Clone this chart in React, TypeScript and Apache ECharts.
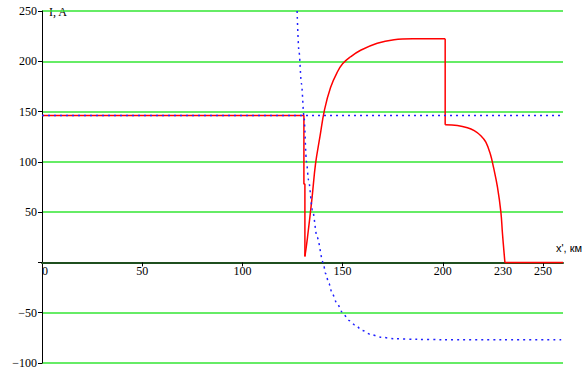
import React, { useEffect, useRef } from "react";
import * as echarts from "echarts";

// red current: sharp step segments and smooth curved segments
const redStepAX = [0, 130.7, 130.7, 131.2, 131.2];
const redStepAY = [146, 146, 78, 78, 6];
const redRiseX = [131.2, 132.5, 134.8, 136.5, 138.7, 141, 144, 147.3, 150, 154, 159, 167.3, 175.7, 185, 201.2];
const redRiseY = [6, 25, 65, 98, 125, 152, 174, 189, 197.5, 204.5, 211, 218, 221.5, 222.4, 222.4];
const redStepBX = [201.2, 201.2];
const redStepBY = [222.4, 137];
const redFallX = [201.2, 207.3, 212.3, 215.7, 219, 221.5, 223.7, 225.3, 227.3, 229, 229.8, 231];
const redFallY = [137, 136.2, 134, 131, 126, 119.6, 108, 94.7, 74.8, 50, 28.5, 0];
const redTailX = [231, 260];
const redTailY = [0, 0];

// blue dotted curve
const blueX = [127.3, 128.2, 129.5, 130.7, 132, 133, 135, 137.3, 140.3, 141.5, 143.2, 144.8, 147.3, 149.8, 153.2, 156.5, 159.8, 164, 169, 175.7, 187.3, 200, 230, 260];
const blueY = [250, 210.7, 177.6, 146, 100, 82, 52, 25, 0, -11, -21, -31, -41, -49.4, -57.7, -62.6, -67.6, -71.6, -74.3, -75.8, -76.5, -76.8, -77, -77];

// blue dotted level
const flatX = [0, 260];
const flatY = [146, 146];

const xTickValues = [50, 100, 150, 200, 250];
const xLabelValues = [0, 50, 100, 150, 200, 230, 250];

const Y_MIN = -100;
const Y_MAX = 250;
const GRID_TOP = 11;
const GRID_BOTTOM = 10;
const HEIGHT = 373;

const zip = (xs: number[], ys: number[]) => xs.map((x, i) => [x, ys[i]]);

export default function App() {
  const ref = useRef<HTMLDivElement>(null);
  useEffect(() => {
    if (!ref.current) return;
    const chart = echarts.init(ref.current, null, { renderer: "svg" });
    const font = "Liberation Serif";
    const red = { color: "#ff0000", width: 1.5 };
    const plotH = HEIGHT - GRID_TOP - GRID_BOTTOM;
    const zeroOffset = -((0 - Y_MIN) / (Y_MAX - Y_MIN)) * plotH;
    const seg = (xs: number[], ys: number[], smooth: boolean) => ({
      type: "line",
      data: zip(xs, ys),
      showSymbol: false,
      smooth: smooth ? 0.4 : false,
      lineStyle: red,
      z: 2,
    });
    chart.setOption({
      animation: false,
      backgroundColor: "#ffffff",
      grid: { left: 42, right: 25, top: GRID_TOP, bottom: GRID_BOTTOM, outerBoundsMode: "none", containLabel: false },
      xAxis: {
        type: "value",
        min: 0,
        max: 260,
        interval: 10,
        position: "bottom",
        offset: zeroOffset,
        axisLine: { onZero: false, lineStyle: { color: "#1f4f1f", width: 2 } },
        axisTick: { show: true, customValues: xTickValues, length: 4, lineStyle: { color: "#000" } },
        axisLabel: {
          customValues: xLabelValues,
          color: "#000",
          fontFamily: font,
          fontSize: 12,
          margin: 3,
          alignMinLabel: "left",
          formatter: (v: number) => String(v),
        },
        splitLine: { show: false },
      },
      yAxis: {
        type: "value",
        min: Y_MIN,
        max: Y_MAX,
        interval: 50,
        axisLine: { show: true, onZero: false, lineStyle: { color: "#000", width: 1 } },
        axisTick: { show: true, length: 4, lineStyle: { color: "#000" } },
        axisLabel: {
          color: "#000",
          fontFamily: font,
          fontSize: 12,
          margin: 5,
          formatter: (v: number) => (v === 0 ? "" : v < 0 ? "\u2212" + Math.abs(v) : String(v)),
        },
        splitLine: { show: true, lineStyle: { color: "#33e633", width: 1.5 } },
      },
      graphic: [
        { type: "text", left: 49, top: 6, style: { text: "I, A", fontFamily: font, fontSize: 12, fill: "#000" } },
        { type: "text", left: 556, top: 242, style: { text: "x', км", fontFamily: "Liberation Sans", fontSize: 11, fill: "#000" } },
      ],
      series: [
        {
          type: "line",
          data: zip(flatX, flatY),
          showSymbol: false,
          lineStyle: { color: "#2020ff", width: 1.5, type: [2, 4] },
          z: 3,
        },
        seg(redStepAX, redStepAY, false),
        seg(redRiseX, redRiseY, true),
        seg(redStepBX, redStepBY, false),
        seg(redFallX, redFallY, true),
        seg(redTailX, redTailY, false),
        {
          type: "line",
          data: zip(blueX, blueY),
          showSymbol: false,
          smooth: 0.3,
          smoothMonotone: "x",
          lineStyle: { color: "#2020ff", width: 1.5, type: [2, 4] },
          z: 4,
        },
      ],
    });
    return () => chart.dispose();
  }, []);
  return <div ref={ref} style={{ width: 588, height: 373, position: "absolute", left: 0, top: 0 }} />;
}
